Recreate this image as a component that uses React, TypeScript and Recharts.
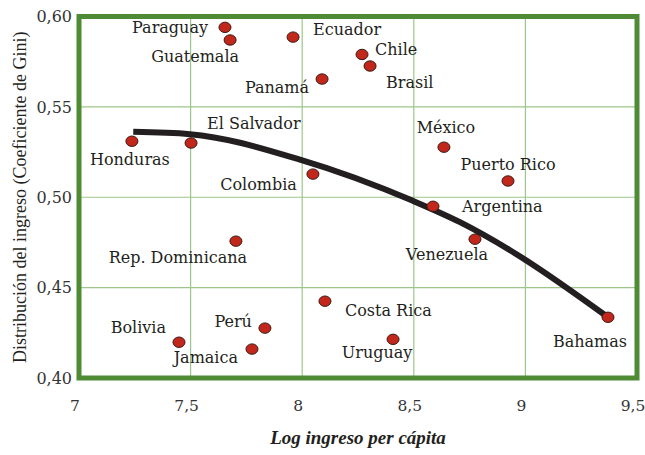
import React from "react";
import {
  ComposedChart,
  Scatter,
  Line,
  XAxis,
  YAxis,
  CartesianGrid,
  ReferenceArea,
  Label,
} from "recharts";

// ---- data ----
const countries = [
  "Paraguay", "Guatemala", "Ecuador", "Chile", "Brasil", "Panamá",
  "Honduras", "El Salvador", "México", "Puerto Rico", "Colombia", "Argentina",
  "Rep. Dominicana", "Venezuela", "Costa Rica", "Bolivia", "Perú", "Jamaica",
  "Uruguay", "Bahamas",
];
const logIncome = [
  7.654, 7.677, 7.959, 8.268, 8.304, 8.089,
  7.237, 7.502, 8.635, 8.922, 8.048, 8.586,
  7.703, 8.774, 8.102, 7.448, 7.833, 7.775,
  8.407, 9.37,
];
const gini = [
  0.594, 0.587, 0.5886, 0.579, 0.5726, 0.5654,
  0.531, 0.530, 0.5277, 0.509, 0.5128, 0.495,
  0.4757, 0.4768, 0.4425, 0.4198, 0.4276, 0.416,
  0.4214, 0.4336,
];
const trendX = [7.243, 7.497, 7.99, 8.496, 8.707, 8.931, 9.37];
const trendY = [0.5362, 0.5349, 0.5208, 0.498, 0.4862, 0.4707, 0.4336];
const xTicks = [7, 7.5, 8, 8.5, 9, 9.5];
const yTicks = [0.4, 0.45, 0.5, 0.55, 0.6];

// ---- label layout (style, not data) ----
const labelLayout: Record<string, [string, number, number]> = {
  Paraguay: ["end", -17, 0],
  Guatemala: ["middle", -35, 17],
  Ecuador: ["start", 20, -8],
  Chile: ["start", 13, -5],
  Brasil: ["start", 16, 16],
  "Panamá": ["end", -13, 8],
  Honduras: ["middle", -2, 18],
  "El Salvador": ["start", 16, -20],
  "México": ["middle", 2, -20],
  "Puerto Rico": ["middle", 0, -16],
  Colombia: ["end", -16, 10],
  Argentina: ["start", 29, 0],
  "Rep. Dominicana": ["middle", -58, 16],
  Venezuela: ["middle", -28, 15],
  "Costa Rica": ["start", 20, 9],
  Bolivia: ["end", -13, -15],
  "Perú": ["end", -13, -7],
  Jamaica: ["end", -14, 8],
  Uruguay: ["middle", -16, 13],
  Bahamas: ["middle", -18, 24],
};

const points = countries.map((name, i) => ({ name, x: logIncome[i], y: gini[i] }));
const trend = trendX.map((x, i) => ({ x, y: trendY[i] }));

const fmt = (v: number, d: number) => v.toFixed(d).replace(".", ",");

const TEXT = "#231f20";
const LABEL_FONT = "'DejaVu Serif', serif";

const Dot = (props: any) => {
  const { cx, cy, payload } = props;
  const lay = labelLayout[payload.name] || ["middle", 0, 0];
  return (
    <g>
      <ellipse cx={cx} cy={cy} rx={6} ry={5.2} fill="#c1271a" stroke="#3b1a12" strokeWidth={1} />
      <text
        x={cx + lay[1]}
        y={cy + lay[2]}
        textAnchor={lay[0] as any}
        dominantBaseline="central"
        fontFamily={LABEL_FONT}
        fontSize={16}
        fill={TEXT}
      >
        {payload.name}
      </text>
    </g>
  );
};

const XTick = (props: any) => {
  const { x, y, payload } = props;
  const v = payload.value as number;
  return (
    <text
      x={x - 4}
      y={y + 6}
      textAnchor="middle"
      dominantBaseline="central"
      fontFamily={LABEL_FONT}
      fontSize={15.5}
      fill="#333"
    >
      {Number.isInteger(v) ? String(v) : fmt(v, 1)}
    </text>
  );
};

export default function App() {
  return (
    <div style={{ position: "absolute", left: 0, top: 0, background: "#fff" }}>
      <ComposedChart
        width={645}
        height={455}
        margin={{ top: 16.5, right: 8, bottom: 0, left: 0 }}
      >
        <CartesianGrid stroke="#9dc78a" strokeWidth={1.2} vertical horizontal />
        <XAxis
          type="number"
          dataKey="x"
          domain={[7, 9.5]}
          ticks={xTicks}
          axisLine={false}
          tickLine={false}
          tickSize={0}
          tickMargin={22}
          height={77}
          tick={<XTick />}
          interval={0}
          allowDataOverflow
        >
          <Label
            content={(p: any) => {
              const vb = p.viewBox;
              return (
                <text
                  x={vb.x + vb.width / 2}
                  y={437}
                  textAnchor="middle"
                  dominantBaseline="central"
                  fontFamily="'Liberation Serif', serif"
                  fontWeight="bold"
                  fontStyle="italic"
                  fontSize={19}
                  fill={TEXT}
                >
                  Log ingreso per cápita
                </text>
              );
            }}
          />
        </XAxis>
        <YAxis
          type="number"
          dataKey="y"
          domain={[0.4, 0.6]}
          ticks={yTicks}
          tickFormatter={(v: number) => fmt(v, 2)}
          axisLine={false}
          tickLine={false}
          tickSize={0}
          tickMargin={7}
          width={79}
          tick={{ fill: "#333", fontFamily: LABEL_FONT, fontSize: 16 }}
          interval={0}
          allowDataOverflow
        >
          <Label
            content={(p: any) => {
              const vb = p.viewBox;
              const cx = 20;
              const cy = vb.y + vb.height / 2;
              return (
                <text
                  x={cx}
                  y={cy}
                  transform={`rotate(-90, ${cx}, ${cy})`}
                  textAnchor="middle"
                  dominantBaseline="central"
                  fontFamily="'Liberation Serif', serif"
                  fontSize={18}
                  fill={TEXT}
                >
                  Distribución del ingreso (Coeficiente de Gini)
                </text>
              );
            }}
          />
        </YAxis>
        <ReferenceArea
          x1={7}
          x2={9.5}
          y1={0.4}
          y2={0.6}
          fill="none"
          fillOpacity={0}
          stroke="#4f8a35"
          strokeWidth={5}
          ifOverflow="visible"
        />
        <Scatter data={points} shape={<Dot />} isAnimationActive={false} />
        <Line
          data={trend}
          dataKey="y"
          type="monotone"
          stroke="#231f20"
          strokeWidth={6}
          dot={false}
          activeDot={false}
          isAnimationActive={false}
        />
      </ComposedChart>
    </div>
  );
}
